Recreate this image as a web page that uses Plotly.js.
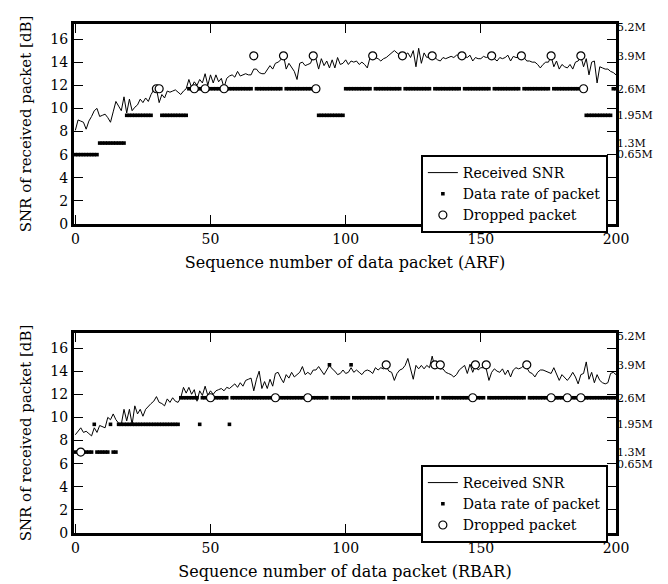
<!DOCTYPE html>
<html>
<head>
<meta charset="utf-8">
<script src="https://cdn.plot.ly/plotly-3.0.1.min.js"></script>
<style>html,body{margin:0;padding:0;background:#fff;}#chart{width:668px;height:584px;}</style>
</head>
<body>
<div id="chart"></div>
<script>
// Rate labels (right axis) and the SNR level each rate is drawn at
const rateLabels = ['0.65M', '1.3M', '1.95M', '2.6M', '3.9M', '5.2M'];
const rateSNR = [6, 7, 9.4, 11.7, 14.55, 17];

// ARF: received SNR per packet (0..200)
const arfSNR = [
  8.1, 9.0, 8.9, 8.8, 8.2, 8.9, 9.3, 9.8, 10.0, 9.3,
  9.4, 9.5, 9.2, 8.8, 9.7, 10.6, 10.2, 9.8, 11.0, 9.6,
  10.8, 9.8, 10.1, 10.3, 10.8, 10.5, 10.9, 10.6, 11.2, 11.6,
  11.7, 10.5, 11.2, 10.9, 11.5, 11.4, 11.5, 11.6, 11.4, 11.2,
  11.5, 11.7, 12.5, 11.8, 12.3, 12.0, 12.5, 12.2, 13.0, 12.0,
  12.9, 12.2, 12.9, 12.3, 12.6, 11.8, 12.6, 12.8, 12.9, 12.7,
  13.2, 12.8, 12.9, 13.0, 12.9, 12.9, 13.4, 13.4, 13.1, 13.0,
  13.0, 13.4, 13.7, 13.4, 13.9, 14.0, 14.2, 14.6, 13.4, 13.9,
  13.6, 13.2, 12.5, 13.9, 14.0, 13.7, 13.8, 13.9, 14.5, 14.3,
  13.4, 14.3, 13.7, 14.1, 13.5, 14.2, 13.5, 14.4, 13.8, 13.9,
  14.2, 13.8, 14.1, 14.0, 14.1, 13.8, 14.0, 13.8, 13.5, 14.4,
  14.6, 14.4, 14.3, 14.1, 14.3, 14.4, 14.6, 14.8, 15.0, 14.8,
  14.6, 14.6, 14.6, 14.8, 14.4, 15.0, 13.6, 15.2, 13.9, 14.8,
  14.4, 14.5, 14.5, 14.4, 14.2, 14.1, 14.4, 14.3, 14.4, 14.5,
  14.4, 14.6, 14.6, 14.6, 14.5, 14.4, 14.6, 14.1, 14.4, 14.3,
  14.3, 14.5, 14.4, 14.5, 14.5, 14.3, 14.1, 14.4, 14.3, 14.4,
  14.6, 14.1, 14.5, 14.4, 14.4, 14.5, 14.4, 14.1, 14.1, 14.0,
  14.0, 13.8, 13.5, 13.8, 14.0, 14.0, 14.5, 13.6, 14.1, 13.4,
  13.8, 13.6, 13.5, 13.8, 13.4, 14.0, 14.1, 14.5, 13.6, 14.3,
  12.9, 14.0, 14.1, 12.2, 13.6, 13.5, 13.4, 13.4, 13.2, 13.1,
  12.9
];
// ARF: data rate used, as runs [first packet, last packet, rate index]
const arfRateRuns = [
  [0, 8, 0], [9, 18, 1], [19, 28, 2], [29, 31, 3], [32, 41, 2], [42, 65, 3],
  [66, 66, 4], [67, 76, 3], [77, 77, 4], [78, 87, 3], [88, 88, 4], [89, 89, 3],
  [90, 99, 2], [100, 109, 3], [110, 110, 4], [111, 120, 3], [121, 121, 4],
  [122, 131, 3], [132, 132, 4], [133, 142, 3], [143, 143, 4], [144, 153, 3],
  [154, 154, 4], [155, 164, 3], [165, 165, 4], [166, 175, 3], [176, 176, 4],
  [177, 186, 3], [187, 187, 4], [188, 188, 3], [189, 198, 2], [199, 200, 3]
];
const arfDropped = [30, 31, 44, 48, 55, 66, 77, 88, 89, 110, 121, 132, 143, 154, 165, 176, 187, 188];

// RBAR: received SNR per packet (0..200)
const rbarSNR = [
  8.5, 8.8, 9.1, 8.7, 8.8, 8.6, 8.4, 9.1, 8.7, 9.3,
  9.2, 9.1, 10.0, 9.8, 10.3, 9.8, 9.5, 9.4, 10.7, 9.7,
  10.7, 9.4, 11.0, 10.3, 10.7, 10.1, 10.7, 11.0, 11.2, 11.4,
  11.8, 11.3, 11.2, 11.0, 11.6, 11.3, 11.7, 11.4, 11.3, 11.7,
  12.6, 12.1, 12.6, 12.0, 12.4, 11.4, 12.3, 11.9, 12.7, 11.9,
  12.3, 12.0, 12.3, 12.4, 12.5, 12.3, 12.6, 12.5, 12.7, 12.9,
  12.6, 13.0, 12.7, 13.2, 13.3, 13.4, 12.3, 13.3, 14.0, 12.5,
  13.1, 12.5, 13.3, 12.7, 13.8, 13.9, 13.4, 13.0, 13.7, 13.4,
  13.9, 13.5, 13.7, 13.9, 14.4, 13.7, 13.9, 13.7, 14.1, 14.1,
  14.4, 14.1, 13.7, 14.1, 14.5, 14.2, 14.0, 13.7, 13.8, 14.1,
  13.8, 13.9, 14.3, 13.9, 14.1, 13.9, 13.7, 14.0, 14.1, 14.0,
  13.8, 14.3, 14.1, 14.3, 14.2, 14.4, 14.0, 13.9, 13.2, 13.8,
  14.1, 14.2, 14.5, 15.1, 14.3, 13.3, 14.5, 14.2, 14.5, 14.2,
  14.5, 14.3, 15.3, 14.3, 14.4, 14.2, 14.2, 13.9, 13.8, 13.7,
  13.5, 13.7, 14.1, 14.3, 14.5, 13.8, 14.6, 13.9, 14.5, 14.1,
  14.3, 14.3, 14.2, 13.2, 13.9, 14.2, 14.0, 13.9, 14.2, 13.7,
  14.1, 13.5, 14.1, 14.3, 14.2, 14.3, 14.5, 14.3, 13.9, 13.8,
  13.5, 13.9, 14.1, 14.1, 14.0, 13.9, 13.8, 14.3, 13.7, 13.2,
  13.7, 13.4, 13.2, 13.5, 13.9, 13.5, 12.9, 13.7, 13.8, 14.8,
  13.3, 13.9, 13.0, 13.7, 13.2, 13.0, 12.9, 13.0, 13.8, 13.9,
  13.7
];
// RBAR: data rate used, as runs [first packet, last packet, rate index]
const rbarRateRuns = [
  [0, 6, 1], [7, 7, 2], [8, 12, 1], [13, 13, 2], [14, 15, 1], [16, 38, 2],
  [39, 45, 3], [46, 46, 2], [47, 56, 3], [57, 57, 2], [58, 93, 3], [94, 94, 4],
  [95, 101, 3], [102, 102, 4], [103, 114, 3], [115, 115, 4], [116, 132, 3],
  [133, 133, 4], [134, 134, 3], [135, 135, 4], [136, 147, 3], [148, 148, 4],
  [149, 151, 3], [152, 152, 4], [153, 166, 3], [167, 167, 4], [168, 200, 3]
];
const rbarDropped = [2, 50, 74, 86, 115, 133, 135, 147, 148, 152, 167, 176, 182, 187];

const xTickVals = [0, 50, 100, 150, 200];
const yTickVals = [0, 2, 4, 6, 8, 10, 12, 14, 16];
const xTitles = ['Sequence number of data packet (ARF)', 'Sequence number of data packet (RBAR)'];
const yTitle = 'SNR of received packet [dB]';

function rateOfPacket(runs) {
  const out = [];
  runs.forEach(([a, b, r]) => { for (let p = a; p <= b; p++) out[p] = r; });
  return out;
}

const FONT = 'DejaVu Serif, serif';

function tracesFor(snr, runs, dropped, xa, ya, ya2, legendId) {
  const pk = snr.map((_, i) => i);
  const rate = rateOfPacket(runs);
  return [
    { x: pk, y: snr, type: 'scatter', mode: 'lines', name: 'Received SNR',
      line: { color: '#000', width: 1 }, xaxis: xa, yaxis: ya, legend: legendId },
    { x: pk, y: rate.map(r => rateSNR[r]), type: 'scatter', mode: 'markers', name: 'Data rate of packet',
      marker: { symbol: 'square', size: 3.6, color: '#000', line: { width: 0 } },
      xaxis: xa, yaxis: ya2, legend: legendId },
    { x: dropped, y: dropped.map(p => rateSNR[rate[p]]), type: 'scatter', mode: 'markers', name: 'Dropped packet',
      marker: { symbol: 'circle', size: 8, color: '#fff', line: { color: '#000', width: 1.2 } },
      xaxis: xa, yaxis: ya2, legend: legendId }
  ];
}

const data = [
  ...tracesFor(arfSNR, arfRateRuns, arfDropped, 'x', 'y', 'y2', 'legend'),
  ...tracesFor(rbarSNR, rbarRateRuns, rbarDropped, 'x2', 'y3', 'y4', 'legend2')
];

const YR = [0, 17.3];
function xAxis(anchor, title) {
  return {
    anchor: anchor, domain: [0, 1], range: [-0.5, 200],
    tickvals: xTickVals, ticks: 'inside', ticklen: 9, tickwidth: 1, tickcolor: '#000',
    showline: true, linewidth: 3, linecolor: '#000', mirror: 'ticks',
    showgrid: false, zeroline: false,
    tickfont: { family: FONT, size: 14, color: '#000' },
    title: { text: title, font: { family: FONT, size: 16, color: '#000' }, standoff: 12 }
  };
}
function yAxis(anchor, domain) {
  return {
    anchor: anchor, domain: domain, range: YR,
    tickvals: yTickVals, ticks: 'inside', ticklen: 9, tickwidth: 1, tickcolor: '#000',
    showline: true, linewidth: 3, linecolor: '#000', mirror: 'ticks',
    showgrid: false, zeroline: false,
    tickfont: { family: FONT, size: 14, color: '#000' },
    title: { text: yTitle, font: { family: FONT, size: 15, color: '#000' }, standoff: 16 }
  };
}
function yRight(overlay, anchor) {
  return {
    overlaying: overlay, anchor: anchor, side: 'right', range: YR,
    tickvals: rateSNR, ticktext: rateLabels, ticks: '', showline: false,
    showgrid: false, zeroline: false,
    tickfont: { family: FONT, size: 11, color: '#000' }
  };
}
function legendAt(yc) {
  return {
    x: 0.985, xanchor: 'right', y: yc, yanchor: 'middle',
    bgcolor: '#fff', bordercolor: '#000', borderwidth: 2,
    font: { family: FONT, size: 14, color: '#000' },
    tracegroupgap: 0, itemwidth: 30
  };
}

const topDom = [0.6071, 1];
const botDom = [0, 0.3929];

const layout = {
  width: 668, height: 584,
  margin: { l: 74, r: 52, t: 24, b: 51 },
  paper_bgcolor: '#fff', plot_bgcolor: '#fff',
  showlegend: true,
  xaxis: xAxis('y', xTitles[0]),
  yaxis: yAxis('x', topDom),
  yaxis2: yRight('y', 'x'),
  xaxis2: xAxis('y3', xTitles[1]),
  yaxis3: yAxis('x2', botDom),
  yaxis4: yRight('y3', 'x2'),
  legend: legendAt(0.666),
  legend2: legendAt(0.057)
};

Plotly.newPlot('chart', data, layout, { displayModeBar: false, staticPlot: true });
</script>
</body>
</html>
